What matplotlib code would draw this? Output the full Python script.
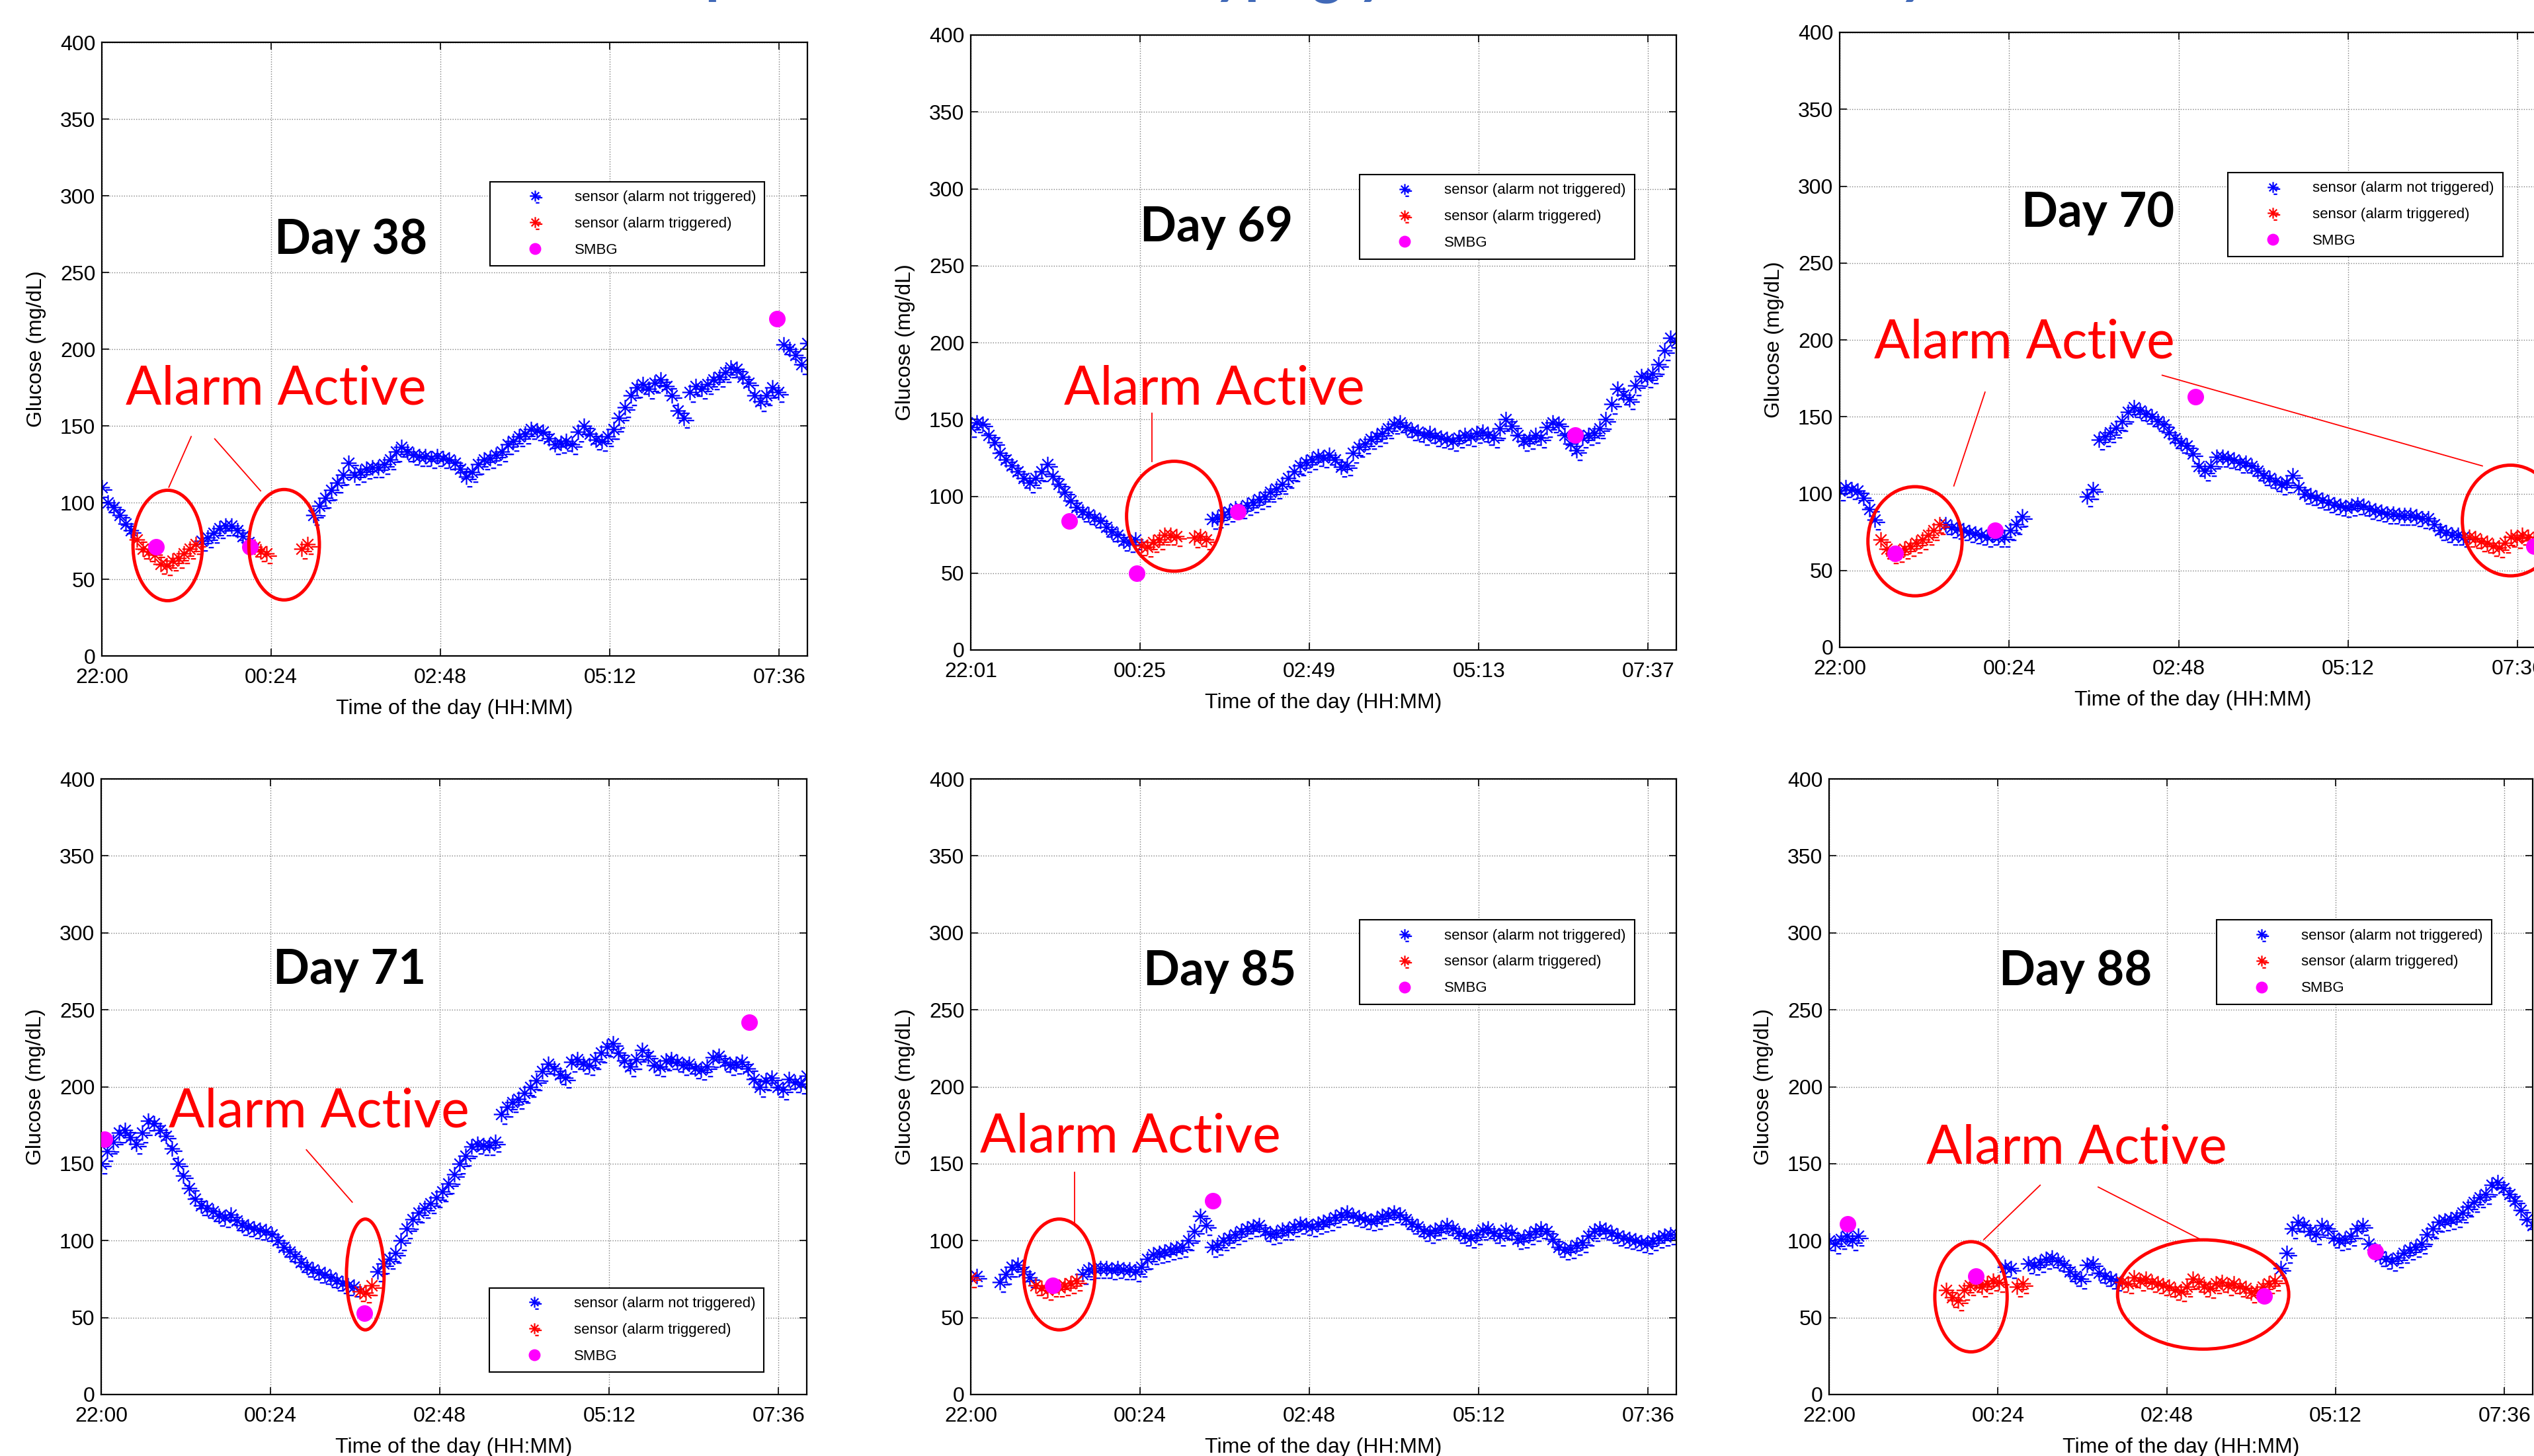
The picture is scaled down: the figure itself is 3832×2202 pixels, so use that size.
import numpy as np
import matplotlib
matplotlib.use("Agg")
import matplotlib.pyplot as plt
from matplotlib.patches import Ellipse
from matplotlib.path import Path

plt.rcParams['font.family'] = ['Liberation Sans', 'DejaVu Sans']

N = None
# ---------------- data (sensor glucose every 5 min from start of night, mg/dL) ----------------
day38_glucose = [110, 100, 97, 92, 86, 82, 76, 70, 68, 66, 60, 59,
                 62, 64, 67, 70, 73, 75, 77, 80, 83, 85, 85, 82,
                 78, 74, 71, 68, 67, N, N, N, N, N, 70, 73,
                 92, 98, 103, 108, 113, 118, 126, 118, 120, 122, 123, 123,
                 125, 128, 133, 136, 133, 131, 130, 130, 129, 130, 129, 128,
                 126, 122, 117, 120, 125, 128, 129, 131, 133, 138, 140, 143,
                 145, 148, 147, 146, 142, 138, 139, 140, 138, 146, 150, 145,
                 141, 140, 143, 148, 155, 162, 170, 175, 177, 174, 178, 180,
                 176, 170, 160, 155, 172, 176, 174, 177, 180, 182, 185, 188,
                 187, 182, 178, 170, 166, 170, 175, 172, 203, 200, 196, 190,
                 204]
day69_glucose = [145, 148, 147, 140, 135, 128, 124, 120, 116, 112, 109, 112,
                 116, 121, 113, 108, 103, 97, 93, 90, 88, 86, 84, 80,
                 77, 75, 71, 70, 72, 68, 67, 70, 72, 75, 75, 74,
                 N, N, 73, 74, 72, 85, 86, 88, 90, 92, 92, 94,
                 96, 98, 100, 103, 105, 108, 112, 116, 120, 122, 124, 126,
                 125, 127, 124, 119, 120, 128, 132, 134, 137, 139, 141, 144,
                 147, 148, 145, 143, 142, 140, 141, 139, 138, 137, 136, 138,
                 140, 139, 141, 142, 140, 138, 144, 150, 146, 140, 136, 137,
                 140, 138, 145, 148, 147, 140, 134, 130, 138, 140, 141, 144,
                 150, 160, 170, 166, 163, 172, 178, 177, 180, 186, 195, 203,
                 201]
day70_glucose = [102, 104, 103, 102, 97, 90, 83, 70, 64, 61, 62, 64,
                 66, 68, 70, 73, 76, 80, 80, 78, 77, 76, 75, 74,
                 73, 72, 73, 72, 72, 76, 80, 85, N, N, N, N,
                 N, N, N, N, N, N, 98, 103, 135, 137, 140, 143,
                 147, 153, 156, 154, 152, 150, 147, 145, 140, 136, 133, 131,
                 126, 118, 115, 118, 124, 124, 123, 122, 120, 120, 118, 115,
                 112, 110, 108, 106, 107, 112, 104, 100, 99, 97, 96, 94,
                 93, 92, 91, 92, 93, 92, 90, 89, 88, 87, 87, 86,
                 86, 86, 85, 84, 84, 80, 76, 75, 73, 73, 72, 72,
                 71, 69, 68, 66, 65, 68, 72, 71, 73, 72, 70, 71,
                 70]
day71_glucose = [150, 158, 164, 170, 172, 167, 163, 170, 178, 176, 172, 168,
                 160, 150, 142, 134, 127, 123, 121, 119, 116, 115, 117, 113,
                 110, 109, 108, 107, 106, 104, 100, 96, 93, 90, 86, 83,
                 81, 79, 78, 76, 74, 72, 71, 70, 67, 66, 71, 80,
                 85, 88, 92, 100, 108, 114, 118, 121, 124, 128, 132, 137,
                 143, 150, 155, 161, 163, 162, 162, 164, 182, 187, 190, 192,
                 196, 200, 204, 210, 215, 212, 208, 206, 216, 218, 215, 214,
                 218, 222, 226, 228, 222, 217, 213, 218, 224, 220, 214, 213,
                 217, 218, 216, 214, 215, 212, 211, 213, 219, 220, 216, 214,
                 215, 216, 212, 205, 200, 204, 206, 200, 198, 205, 203, 202,
                 207]
day85_glucose = [76, 77, N, N, N, 73, 78, 83, 84, 80, 76, 71,
                 69, 68, 70, 70, 71, 72, 74, 78, 81, 82, 82, 82,
                 81, 82, 81, 81, 80, 83, 88, 91, 92, 93, 94, 95,
                 96, 100, 106, 116, 110, 96, 97, 100, 102, 104, 106, 108,
                 109, 110, 106, 104, 105, 107, 107, 109, 111, 110, 109, 111,
                 112, 113, 115, 117, 118, 116, 115, 114, 113, 114, 116, 117,
                 118, 117, 114, 111, 109, 106, 105, 107, 108, 110, 108, 105,
                 103, 102, 104, 107, 108, 105, 103, 107, 105, 101, 102, 104,
                 106, 108, 106, 101, 96, 94, 95, 97, 99, 103, 106, 108,
                 107, 105, 103, 102, 101, 100, 99, 98, 100, 102, 103, 104,
                 104]
day88_glucose = [100, 98, 101, 103, 100, 103, N, N, N, N, N, N,
                 N, N, N, N, N, N, N, N, 68, 63, 61, 68,
                 71, 73, 70, 72, 74, 73, 83, 82, 70, 72, 85, 84,
                 86, 88, 89, 87, 84, 80, 77, 75, 84, 85, 79, 77,
                 75, 74, 73, 72, 76, 74, 75, 73, 72, 71, 70, 68,
                 67, 70, 75, 73, 70, 69, 72, 73, 71, 72, 70, 69,
                 66, 67, 70, 72, 74, 82, 92, 108, 112, 110, 106, 104,
                 110, 108, 102, 100, 101, 103, 108, 110, 98, 94, 90, 88,
                 87, 89, 92, 94, 96, 98, 104, 108, 112, 113, 114, 115,
                 118, 122, 125, 128, 130, 136, 138, 134, 130, 126, 120, 114,
                 110]

# alarm-triggered periods (minutes from start of night)
day38_alarms = [(28, 82), (128, 177)]
day69_alarms = [(142, 202)]
day70_alarms = [(33, 87), (532, 600)]
day71_alarms = [(217, 232)]
day85_alarms = [(0, 2), (53, 92)]
day88_alarms = [(97, 147), (158, 167), (248, 382)]

# SMBG fingersticks (minute, mg/dL)
day38_smbg_t = [46, 126, 574];       day38_smbg_v = [71, 71, 220]
day69_smbg_t = [84, 141, 227, 514];  day69_smbg_v = [84, 50, 90, 140]
day70_smbg_t = [47, 132, 302, 590];  day70_smbg_v = [61, 76, 163, 66]
day71_smbg_t = [3, 224, 551];        day71_smbg_v = [166, 53, 242]
day85_smbg_t = [70, 206];            day85_smbg_v = [71, 126]
day88_smbg_t = [16, 125, 371, 466];  day88_smbg_v = [111, 77, 64, 93]

ticks_2200 = ['22:00', '00:24', '02:48', '05:12', '07:36']
ticks_2201 = ['22:01', '00:25', '02:49', '05:13', '07:37']
day_labels = ['Day 38', 'Day 69', 'Day 70', 'Day 71', 'Day 85', 'Day 88']
legend_labels = ['sensor (alarm not triggered)', 'sensor (alarm triggered)', 'SMBG']
title_text = 'Examples of Nocturnal Hypoglycemia Alarm Activity'

panels = [
    dict(g=day38_glucose, al=day38_alarms, st=day38_smbg_t, sv=day38_smbg_v, ticks=ticks_2200,
         pos=(154, 64, 1067, 928), day=(212, 262),
         alarm_txt=(148, 164),
         ellipses=[(56, 72, 59, 72), (155, 72.5, 60, 72)],
         lines=[((76, 143), (57, 110)), ((96, 141.5), (135, 107.6))],
         leg=(0.55, 0.773)),
    dict(g=day69_glucose, al=day69_alarms, st=day69_smbg_t, sv=day69_smbg_v, ticks=ticks_2201,
         pos=(1468, 53, 1067, 930), day=(209, 266),
         alarm_txt=(207, 160),
         ellipses=[(173, 87, 81, 71.5)],
         lines=[((154, 153.8), (154, 122.5))],
         leg=(0.551, 0.773)),
    dict(g=day70_glucose, al=day70_alarms, st=day70_smbg_t, sv=day70_smbg_v, ticks=ticks_2200,
         pos=(2782, 49, 1068, 930), day=(219.5, 273.4),
         alarm_txt=(157, 188),
         ellipses=[(64, 69, 80, 71), (570, 82.5, 82, 72)],
         lines=[((123.5, 166), (97, 105)), ((274, 177), (546, 118))],
         leg=(0.55, 0.772)),
    dict(g=day71_glucose, al=day71_alarms, st=day71_smbg_t, sv=day71_smbg_v, ticks=ticks_2200,
         pos=(153, 1178, 1067, 931), day=(211.5, 267),
         alarm_txt=(185, 173.7),
         ellipses=[(224.6, 78, 32, 72)],
         lines=[((174.5, 159), (213.5, 125))],
         leg=(0.55, 0.173)),
    dict(g=day85_glucose, al=day85_alarms, st=day85_smbg_t, sv=day85_smbg_v, ticks=ticks_2200,
         pos=(1468, 1178, 1067, 931), day=(212, 265.8),
         alarm_txt=(135.5, 157.6),
         ellipses=[(75.3, 78, 60.6, 72)],
         lines=[((88.4, 144.4), (88.4, 111.4))],
         leg=(0.551, 0.771)),
    dict(g=day88_glucose, al=day88_alarms, st=day88_smbg_t, sv=day88_smbg_v, ticks=ticks_2200,
         pos=(2766, 1178, 1064, 931), day=(210, 265.8),
         alarm_txt=(211, 150),
         ellipses=[(121, 63.5, 61.7, 71.6), (319, 65, 146, 71)],
         lines=[((180, 136), (132, 100.7)), ((229.5, 134.8), (317, 100.7))],
         leg=(0.551, 0.771)),
]

W, H = 3832, 2202
fig = plt.figure(figsize=(W / 100, H / 100), dpi=100)
fig.patch.set_facecolor('white')

# MATLAB-like asterisk marker with the small dash artefacts
_v = [(0, -1), (0, 1), (-1, 0), (1, 0), (-0.7, -0.7), (0.7, 0.7), (-0.7, 0.7), (0.7, -0.7),
      (0.45, -0.3), (1.3, -0.3), (0.1, -1.25), (0.75, -1.25)]
_c = [Path.MOVETO, Path.LINETO] * 6
star = Path(_v, _c)

for i, p in enumerate(panels):
    l, t, w, h = p['pos']
    ax = fig.add_axes([l / W, 1 - (t + h) / H, w / W, h / H])
    g = np.array([np.nan if v is None else v for v in p['g']], dtype=float)
    assert len(g) == 121
    tm = np.arange(len(g)) * 5.0
    alarm = np.zeros(len(g), dtype=bool)
    for a, b in p['al']:
        alarm |= (tm >= a) & (tm <= b)
    ok = ~np.isnan(g)
    hb, = ax.plot(tm[ok & ~alarm], g[ok & ~alarm], linestyle='none', marker=star, ms=22,
                  mec='#0000ff', mfc='none', mew=1.6)
    hr, = ax.plot(tm[ok & alarm], g[ok & alarm], linestyle='none', marker=star, ms=22,
                  mec='#ff0000', mfc='none', mew=1.6)
    hs, = ax.plot(p['st'], p['sv'], linestyle='none', marker='o', ms=17,
                  mfc='#ff00ff', mec='#ff00ff', zorder=4)

    ax.set_xlim(0, 600)
    ax.set_ylim(0, 400)
    ax.set_xticks(np.arange(0, 600, 144))
    ax.set_xticklabels(p['ticks'])
    ax.set_yticks(np.arange(0, 401, 50))
    ax.grid(True, linestyle=':', color='#7f7f7f', linewidth=1.0)
    ax.tick_params(direction='in', top=True, right=True, length=8, width=1.2,
                   labelsize=23, colors='k')
    ax.tick_params(axis='x', pad=13)
    ax.tick_params(axis='y', pad=7)
    for sp in ax.spines.values():
        sp.set_linewidth(1.6)
        sp.set_color('k')
    ax.set_xlabel('Time of the day (HH:MM)', fontsize=23)
    ax.set_ylabel('Glucose (mg/dL)', fontsize=23)
    ax.xaxis.set_label_coords(0.5, -0.070)
    ax.yaxis.set_label_coords(-0.079, 0.5)

    leg = ax.legend([hb, hr, hs], legend_labels, loc='upper left', bbox_to_anchor=p['leg'],
                    borderaxespad=0, fontsize=16, frameon=True, fancybox=False,
                    edgecolor='k', framealpha=1, handlelength=4.9, handletextpad=0.25,
                    borderpad=0.6, labelspacing=0.85, numpoints=1, markerscale=0.7)
    leg.get_frame().set_linewidth(1.5)
    leg.set_zorder(6)

    ax.text(p['day'][0], p['day'][1], day_labels[i], ha='center', va='baseline',
            fontsize=52, fontweight='bold', family='Lato', color='k', zorder=7)
    ax.text(p['alarm_txt'][0], p['alarm_txt'][1], 'Alarm Active', ha='center', va='baseline',
            fontsize=58, family='Lato', color='#ff0000', zorder=7)
    for cx, cy, ew, eh in p['ellipses']:
        ax.add_patch(Ellipse((cx, cy), ew, eh, fill=False, edgecolor='#ff0000',
                             linewidth=3.6, zorder=8, clip_on=False))
    for (x1, y1), (x2, y2) in p['lines']:
        ax.plot([x1, x2], [y1, y2], color='#ff0000', linewidth=1.3, zorder=8, clip_on=False)

# cut-off slide title (only descenders visible at the top edge)
renderer = fig.canvas.get_renderer()
def _w(s, size):
    tt = fig.text(0, 0, s, fontsize=size, family='Lato', fontweight='bold')
    wd = tt.get_window_extent(renderer).width
    tt.remove()
    return wd
i1 = title_text.index('Hypo') + 1
i2 = title_text.rindex('y')
d0 = _w(title_text[:i2], 56) - _w(title_text[:i1], 56)
tsize = 56 * 1037.0 / d0
x0 = 1836 - _w(title_text[:i1], tsize)
fig.text(x0 / W, 1 + 13.0 / H, title_text, fontsize=tsize, family='Lato', fontweight='bold',
         color='#4169b8', ha='left', va='baseline')

fig.savefig('out.png', dpi=100)
